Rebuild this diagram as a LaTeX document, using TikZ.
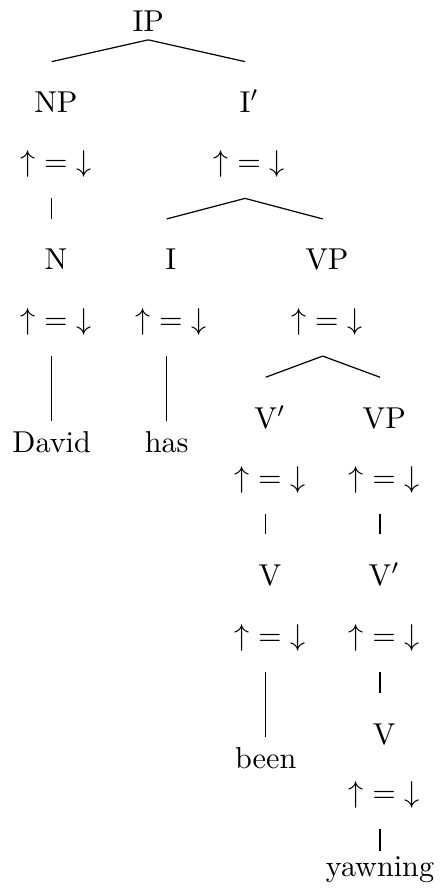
\documentclass[tikz,border=0pt]{standalone}
\newcommand{\updn}{${\uparrow}={\downarrow}$}

\begin{document}
\begin{tikzpicture}[x=0.331pt,y=-0.331pt,
  root/.style={anchor=base,inner sep=2.5pt},
  cat/.style={anchor=base,inner sep=0pt,text height=16.7pt,text depth=0pt,execute at begin node=\kern2.8pt},
  ann/.style={anchor=base,inner sep=0pt,text depth=8.7pt,execute at begin node=\kern2.8pt},
  lex/.style={anchor=base}]
\useasboundingbox (0,0) rectangle (441,891);
% categories and annotations
\node[root] (IP) at (148.3,31.7) {IP};
\node[cat] (NP) at (51.7,112.7) {NP};
\node[ann] (aNP) at (51.7,171.5) {\updn};
\node[cat] (Ibar) at (245,112.7) {I$'$};
\node[ann] (aIbar) at (245,171.5) {\updn};
\node[cat] (N) at (51.7,270) {N};
\node[ann] (aN) at (51.7,329.2) {\updn};
\node[cat] (I) at (166.7,270) {I};
\node[ann] (aI) at (166.7,329.2) {\updn};
\node[cat] (VP) at (322.7,270) {VP};
\node[ann] (aVP) at (322.7,329.2) {\updn};
\node[cat] (Vbar) at (265.7,428.3) {V$'$};
\node[ann] (aVbar) at (265.7,487.5) {\updn};
\node[cat] (VPb) at (380,428.3) {VP};
\node[ann] (aVPb) at (380,487.5) {\updn};
\node[cat] (V) at (265.7,585) {V};
\node[ann] (aV) at (265.7,645) {\updn};
\node[cat] (Vbarb) at (380,585) {V$'$};
\node[ann] (aVbarb) at (380,645) {\updn};
\node[cat] (Vb) at (380,744) {V};
\node[ann] (aVb) at (380,802.5) {\updn};
% words
\node[lex] (David) at (51.7,453) {David};
\node[lex] (has) at (166.7,453) {has};
\node[lex] (been) at (265.7,768.3) {been};
\node[lex,inner ysep=1.5pt] (yawning) at (380,876) {yawning};
% branches
\draw (IP.south) -- (NP.north);
\draw (IP.south) -- (Ibar.north);
\draw (aNP.south) -- (N.north);
\draw (aIbar.south) -- (I.north);
\draw (aIbar.south) -- (VP.north);
\draw (aN.south) -- (David.north);
\draw (aI.south) -- (has.north);
\draw (aVP.south) -- (Vbar.north);
\draw (aVP.south) -- (VPb.north);
\draw (aVbar.south) -- (V.north);
\draw (aVPb.south) -- (Vbarb.north);
\draw (aV.south) -- (been.north);
\draw (aVbarb.south) -- (Vb.north);
\draw (aVb.south) -- (yawning.north);
\end{tikzpicture}
\end{document}
